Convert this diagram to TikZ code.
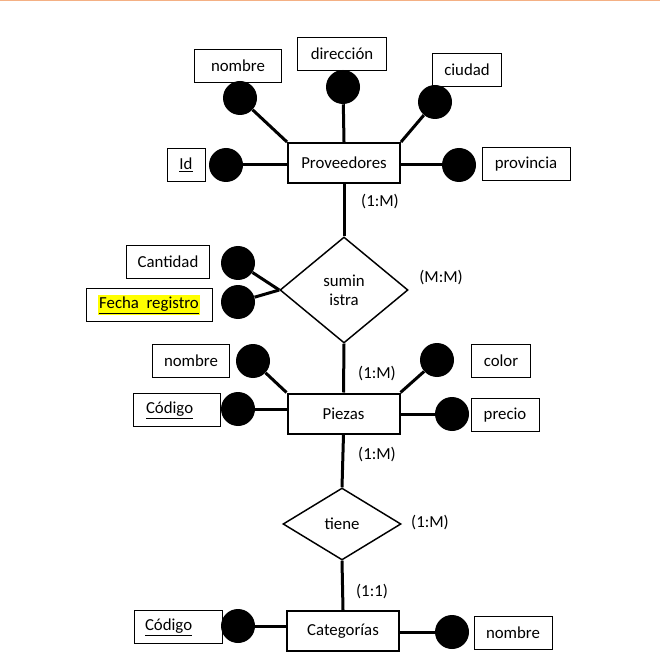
\documentclass[tikz,border=0pt]{standalone}
\usepackage{fontspec}
\setmainfont{Carlito}
\usetikzlibrary{shapes.geometric}
\definecolor{borde}{RGB}{244,176,132}
\definecolor{resalte}{RGB}{255,255,0}

\begin{document}
\begin{tikzpicture}[x=0.75pt,y=-0.75pt,
  font=\fontsize{12.6}{14.5}\selectfont,
  entidad/.style={draw, line width=1.5pt, minimum width=84pt, minimum height=30pt, inner sep=0pt},
  relacion/.style={draw, diamond, line width=1.1pt, inner sep=0pt, align=center},
  atributo/.style={draw, line width=0.75pt, minimum height=24.75pt, inner sep=0pt},
  bola/.style={circle, fill=black, minimum size=25.5pt, inner sep=0pt},
  enlace/.style={line width=2.25pt},
  card/.style={inner sep=0pt}]
\useasboundingbox (0,0) rectangle (660,659);
\draw[borde, line width=1pt] (0,0.7) -- (660,0.7);

% entidades y relaciones
\node[entidad] (prov) at (344,163) {Proveedores};
\node[entidad] (piezas) at (343.5,413.5) {Piezas};
\node[entidad] (cat) at (343,631) {Categorías};
\node[relacion, minimum width=96pt, minimum height=79.5pt] (sum) at (344,290) {sumin\\istra};
\node[relacion, minimum width=88.5pt, minimum height=54pt] (tiene) at (342,524) {tiene};

% atributos de Proveedores
\node[bola] (cNomProv) at (240,98) {};
\node[bola] (cDir) at (343,87) {};
\node[bola] (cCiu) at (435,102) {};
\node[bola] (cId) at (226,165) {};
\node[bola] (cProvin) at (459,165) {};
\node[atributo, minimum width=65.25pt] (aNomProv) at (238,66) {nombre};
\node[atributo, minimum width=66.75pt] (aDir) at (342,54) {dirección};
\node[atributo, minimum width=51.75pt] (aCiu) at (467,70) {ciudad};
\node[atributo, minimum width=28.5pt] (aId) at (186,165) {\underline{Id}};
\node[atributo, minimum width=66pt] (aProvin) at (526,164) {provincia};

% atributos de suministra
\node[bola] (cCant) at (238,263) {};
\node[bola] (cFecha) at (238,302) {};
\node[atributo, minimum width=62.25pt] (aCant) at (168,262) {Cantidad};
\node[atributo, minimum width=94.5pt] (aFecha) at (149,305) {\setlength{\fboxsep}{1pt}\colorbox{resalte}{\underline{Fecha\ \ registro}}};

% atributos de Piezas
\node[bola] (cNomPie) at (253,361) {};
\node[bola] (cColor) at (437,360) {};
\node[bola] (cCodPie) at (238,409) {};
\node[bola] (cPrecio) at (452,414) {};
\node[atributo, minimum width=57.75pt] (aNomPie) at (191,361) {nombre};
\node[atributo, minimum width=44.25pt] (aColor) at (501,361) {color};
\node[atributo, minimum width=65.25pt, text width=46.5pt] (aCodPie) at (177,410) {\underline{Código}};
\node[atributo, minimum width=51pt] (aPrecio) at (505,415) {precio};

% atributos de Categorías
\node[bola] (cCodCat) at (238,626) {};
\node[bola] (cNomCat) at (452,632) {};
\node[atributo, minimum width=66pt, text width=49.5pt] (aCodCat) at (178,627) {\underline{Código}};
\node[atributo, minimum width=58.5pt] (aNomCat) at (513,633) {nombre};

% cardinalidades
\node[card] (k1) at (380,202) {(1:M)};
\node[card] (k2) at (441,278) {(M:M)};
\node[card] (k3) at (377,374) {(1:M)};
\node[card] (k4) at (377,455) {(1:M)};
\node[card] (k5) at (430,523) {(1:M)};
\node[card] (k6) at (372,592) {(1:1)};

% lineas
\draw[enlace] (prov.north west) -- (cNomProv);
\draw[enlace] (prov.north) -- (cDir);
\draw[enlace] (prov.north east) -- (cCiu);
\draw[enlace] (cId) -- (cId -| prov.west);
\draw[enlace] (cProvin -| prov.east) -- (cProvin);
\draw[enlace] (prov.south) -- (sum.north);
\draw[enlace] (cCant) -- (sum.west);
\draw[enlace] (cFecha) -- (sum.west);
\draw[enlace] (sum.south) -- (piezas.north);
\draw[enlace] (piezas.north west) -- (cNomPie);
\draw[enlace] (piezas.north east) -- (cColor);
\draw[enlace] (cCodPie) -- (cCodPie -| piezas.west);
\draw[enlace] (cPrecio -| piezas.east) -- (cPrecio);
\draw[enlace] (piezas.south) -- (tiene.north);
\draw[enlace] (tiene.south) -- (cat.north);
\draw[enlace] (cCodCat) -- (cCodCat -| cat.west);
\draw[enlace] (cNomCat -| cat.east) -- (cNomCat);
\end{tikzpicture}
\end{document}
